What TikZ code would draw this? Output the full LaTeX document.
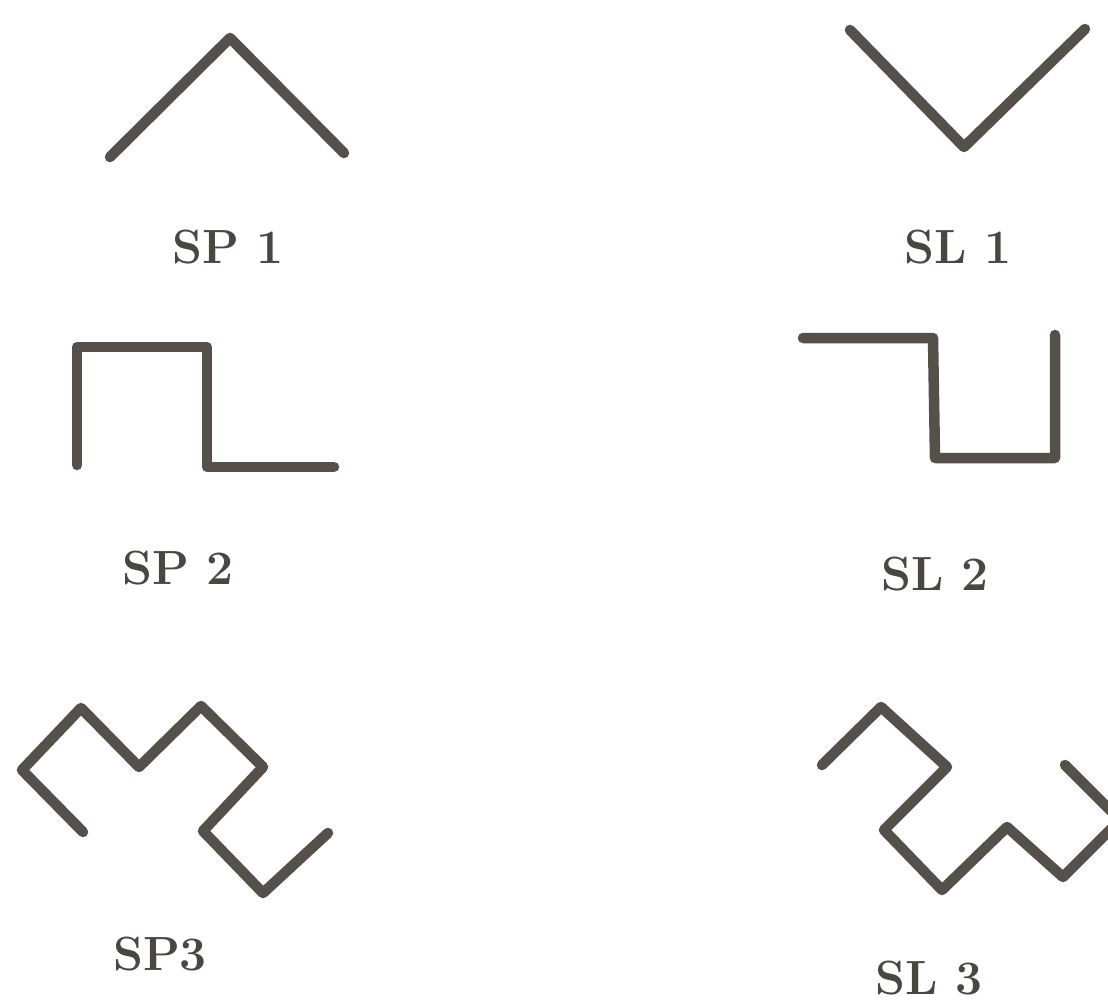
\documentclass[tikz,border=0pt]{standalone}
\usepackage{fontspec}
\definecolor{ink}{HTML}{555049}
\definecolor{txt}{HTML}{4A4640}
\tikzset{
  stroke/.style={draw=ink, line width=10.5pt, line cap=round, line join=round},
  lbl/.style={text=txt, draw=txt, line width=0.9pt, font=\fontsize{48}{48}\selectfont\bfseries, inner sep=0pt},
  lbltxt/.style={text=txt, font=\fontsize{48}{48}\selectfont\bfseries, inner sep=0pt}
}
\begin{document}
\begin{tikzpicture}[x=1pt,y=-1pt]
\fill[white] (0,0) rectangle (1108,1004);
\useasboundingbox (0,0) rectangle (1108,1004);
\begin{scope}
\clip (0,0) rectangle (1108,1004);
% SP1
\draw[stroke] (110,157) -- (230,38) -- (344,153);
% SL1
\draw[stroke] (850,30) -- (964,147) -- (1085,29);
% SP2
\draw[stroke] (77,465) -- (77,347) -- (207,347) -- (207,467) -- (334,467);
% SL2
\draw[stroke] (803,338) -- (933,338) -- (935,458) -- (1055,458) -- (1055,335);
% SP3
\draw[stroke] (83,832) -- (22,770) -- (81,708) -- (139,767) -- (201,706) -- (263,767) -- (203,831) -- (263,893) -- (328,833);
% SL3
\draw[stroke] (822,765) -- (881,707) -- (947,767) -- (884,830) -- (942,890) -- (1007,827) -- (1063,877) -- (1120,820) -- (1065,765);
\end{scope}
\node[lbltxt] (sp1) at (228,247) {SP 1};
\node[lbltxt] (sl1) at (958,247) {SL 1};
\node[lbltxt] (sp2) at (178,568) {SP 2};
\node[lbltxt] (sl2) at (935,574) {SL 2};
\node[lbltxt] (sp3) at (160,954) {SP3};
\node[lbltxt] (sl3) at (929,978) {SL 3};
\end{tikzpicture}
\end{document}
